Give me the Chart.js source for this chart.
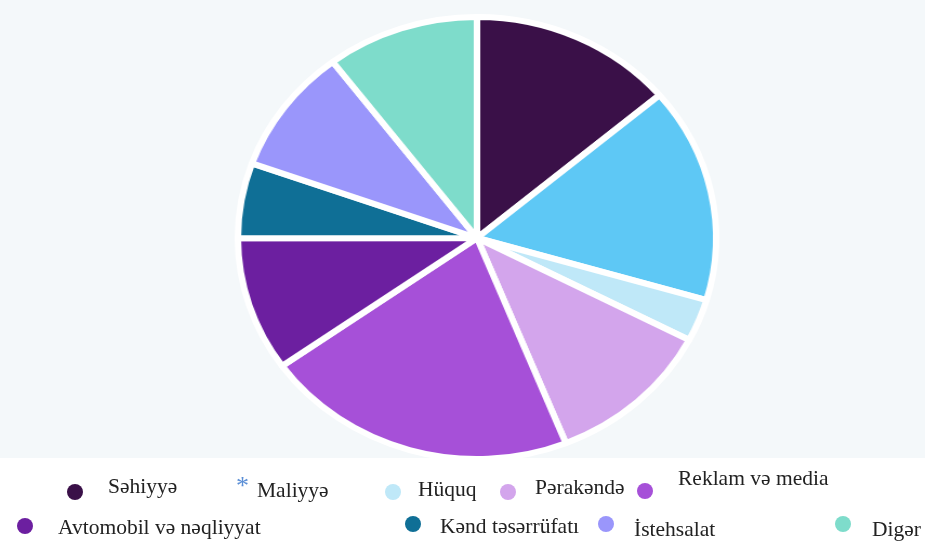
<!DOCTYPE html>
<html>
<head>
<meta charset="utf-8">
<script src="https://cdn.jsdelivr.net/npm/chart.js@4"></script>
<style>
  html, body { margin: 0; padding: 0; }
  body { width: 925px; height: 544px; background: #f4f8fa; position: relative; overflow: hidden; }
  #wrap { position: absolute; left: 0; top: 0; width: 925px; height: 544px; transform: scaleX(1.082); transform-origin: 477px 240px; }
  #legendBg { position: absolute; left: 0; top: 458px; width: 925px; height: 86px; background: #ffffff; }
  .item { position: absolute; font-family: "Liberation Serif", "Times New Roman", serif; font-size: 21.5px; color: #222; white-space: nowrap; line-height: 1; }
  .dot { position: absolute; width: 16px; height: 16px; border-radius: 50%; }
</style>
</head>
<body>
<div id="legendBg"></div>
<div id="wrap"><canvas id="pie" width="925" height="544"></canvas></div>
<div id="legend"></div>
<script>
// sector names and their shares (%)
const labels = ['Səhiyyə', 'Maliyyə', 'Hüquq', 'Pərakəndə', 'Reklam və media',
                'Avtomobil və nəqliyyat', 'Kənd təsərrüfatı', 'İstehsalat', 'Digər'];
const shares = [13.8, 15.7, 3.1, 11.3, 21.2, 9.8, 5.5, 9.2, 10.3];
const colors = ['#3a1048', '#5ec8f5', '#bfe8f8', '#d3a5ec', '#a650d8',
                '#6c1fa0', '#0f6f96', '#9a96fb', '#7edccb'];

// legend layout: dot x/y, text x/y (scattered like the original)
const legendPos = [
  [67, 484, 108, 476],
  [null, null, 257, 480],
  [385, 484, 418, 479],
  [500, 484, 535, 477],
  [637, 483, 678, 468],
  [17, 518, 58, 517],
  [405, 516, 440, 516],
  [598, 516, 634, 519],
  [835, 516, 872, 519]
];

new Chart(document.getElementById('pie'), {
  type: 'pie',
  data: {
    labels: labels,
    datasets: [{
      data: shares,
      backgroundColor: colors,
      borderColor: '#ffffff',
      borderWidth: 6
    }]
  },
  options: {
    responsive: false,
    animation: false,
    layout: { padding: { top: 14, bottom: 82, left: 252, right: 223 } },
    plugins: {
      legend: { display: false },
      tooltip: { enabled: false }
    }
  }
});

const legend = document.getElementById('legend');
labels.forEach(function(name, i) {
  const p = legendPos[i];
  if (p[0] !== null) {
    const d = document.createElement('div');
    d.className = 'dot';
    d.style.left = p[0] + 'px';
    d.style.top = p[1] + 'px';
    d.style.background = colors[i];
    legend.appendChild(d);
  } else {
    // Maliyyə uses an asterisk marker in the original
    const s = document.createElement('div');
    s.className = 'item';
    s.textContent = '*';
    s.style.left = '236px';
    s.style.top = '473px';
    s.style.fontSize = '26px';
    s.style.color = '#5b8fd6';
    legend.appendChild(s);
  }
  const t = document.createElement('div');
  t.className = 'item';
  t.textContent = name;
  t.style.left = p[2] + 'px';
  t.style.top = p[3] + 'px';
  legend.appendChild(t);
});
</script>
</body>
</html>
